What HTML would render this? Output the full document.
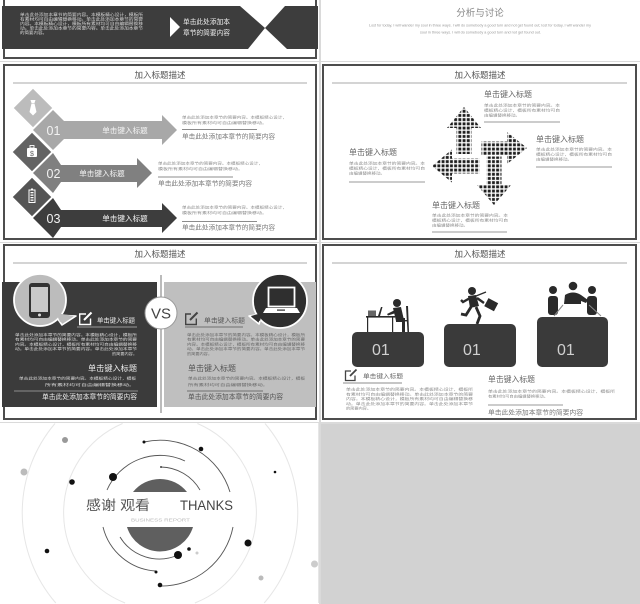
<!DOCTYPE html>
<html><head><meta charset="utf-8">
<style>
html,body{margin:0;padding:0;background:#dadada;width:640px;height:604px;overflow:hidden;}
svg{display:block;}
#root{position:absolute;left:0;top:0;}
text{font-family:"Liberation Sans","Noto Sans CJK SC",sans-serif;}
</style></head><body>
<svg id="root" width="640" height="604" viewBox="0 0 640 604" xmlns="http://www.w3.org/2000/svg" overflow="hidden">
<defs>
<pattern id="dots" x="0" y="0" width="4.2" height="4.2" patternUnits="userSpaceOnUse"><rect x="0.6" y="0.6" width="2.9" height="2.9" fill="#1e1e1e"/></pattern>
</defs>
<rect width="640" height="604" fill="#dadada"/>
<!-- tiles -->
<rect x="0" y="0" width="319" height="61" fill="#fff"/>
<rect x="321" y="0" width="319" height="61" fill="#fff"/>
<rect x="0" y="62" width="319" height="180" fill="#fff"/>
<rect x="321" y="62" width="319" height="180" fill="#fff"/>
<rect x="0" y="243" width="319" height="179" fill="#fff"/>
<rect x="321" y="243" width="319" height="179" fill="#fff"/>
<rect x="0" y="423" width="319" height="181" fill="#fff"/>
<rect x="321" y="424" width="319" height="180" fill="#d2d2d2"/>

<!-- ===== Row 1 left ===== -->
<path d="M4,0 V58 H316 V0" fill="none" stroke="#4d4d4d" stroke-width="2"/>
<polygon points="2,6 240,6 265,28 248,49 2,49" fill="#3d3d3d"/>
<polygon points="285,6 318,6 318,49 287,49 265,28" fill="#3d3d3d"/>
<polygon points="170,17 180,27 170,37" fill="#fff"/>
<text x="183" y="24" font-size="6.6" fill="#eee" textLength="47" lengthAdjust="spacingAndGlyphs">单击此处添加本</text>
<text x="183" y="35" font-size="6.6" fill="#eee" textLength="47" lengthAdjust="spacingAndGlyphs">章节的简要内容</text>
<g font-size="3.8" fill="#d8d8d8">
<text x="20" y="16" textLength="123" lengthAdjust="spacingAndGlyphs">单击此处添加本章节的简要内容。本模板精心设计，模板所</text>
<text x="20" y="20.5" textLength="123" lengthAdjust="spacingAndGlyphs">有素材均可自由编辑替换移动。单击此处添加本章节的简要</text>
<text x="20" y="25" textLength="123" lengthAdjust="spacingAndGlyphs">内容。本模板精心设计，模板所有素材均可自由编辑替换移</text>
<text x="20" y="29.5" textLength="123" lengthAdjust="spacingAndGlyphs">动。单击此处添加本章节的简要内容。单击此处添加本章节</text>
<text x="20" y="34" textLength="27" lengthAdjust="spacingAndGlyphs">的简要内容。</text>
</g>

<!-- ===== Row 1 right ===== -->
<text x="480" y="16" font-size="9.5" fill="#888" text-anchor="middle">分析与讨论</text>
<g font-size="3.5" fill="#999">
<text x="369" y="26.5" textLength="222" lengthAdjust="spacingAndGlyphs">Lost for today, I will wander my soul in three ways. I will do somebody a good turn and not get found out; lost for today, I will wander my</text>
<text x="420" y="33.5" textLength="121" lengthAdjust="spacingAndGlyphs">soul in three ways. I will do somebody a good turn and not get found out.</text>
</g>

<!-- ===== Row 2 left ===== -->
<rect x="4" y="65" width="312" height="174" fill="none" stroke="#4d4d4d" stroke-width="2"/>
<text x="160" y="78" font-size="8.5" fill="#555" text-anchor="middle">加入标题描述</text>
<line x1="13" y1="83" x2="307" y2="83" stroke="#aaa" stroke-width="1"/>
<polygon points="33,130 53,110 64,121 162,121 162,115 177,130 162,145 162,139 64,139 53,150" fill="#a8a8a8"/>
<polygon points="33,173 53,153 61,165 137,165 137,158 152,173 137,188 137,182 61,182 53,193" fill="#808080"/>
<polygon points="33,218 53,198 61,210 162,210 162,203 177,218 162,233 162,227 61,227 53,238" fill="#3d3d3d"/>
<polygon points="33,88 53,108 33,128 13,108" fill="#bcbcbc" stroke="#fff" stroke-width="1.2"/>
<polygon points="32,132 52,152 32,172 12,152" fill="#636363" stroke="#fff" stroke-width="1.2"/>
<polygon points="32,177 52,197 32,217 12,197" fill="#555" stroke="#fff" stroke-width="1.2"/>
<polygon points="30.5,100 35.5,100 34.5,103 31.5,103" fill="#fff"/>
<polygon points="31.5,103.5 34.5,103.5 36.5,112 33,115.5 29.5,112" fill="#fff"/>
<rect x="30" y="145.5" width="4" height="2.5" fill="none" stroke="#fff" stroke-width="0.9"/>
<rect x="27" y="148" width="10" height="9" rx="1" fill="#fff"/>
<text x="32" y="155.8" font-size="7" fill="#636363" text-anchor="middle">$</text>
<rect x="31" y="188.5" width="2" height="1.5" fill="#fff"/>
<rect x="29" y="190" width="6" height="12.5" fill="none" stroke="#fff" stroke-width="1"/>
<rect x="30.5" y="192" width="3" height="1.3" fill="#fff"/>
<rect x="30.5" y="194.5" width="3" height="1.3" fill="#fff"/>
<rect x="30.5" y="197" width="3" height="1.3" fill="#fff"/>
<rect x="30.5" y="199.5" width="3" height="1.3" fill="#fff"/>
<g font-size="12.5" fill="#f2f2f2">
<text x="46.5" y="135">01</text>
<text x="46.5" y="178">02</text>
<text x="46.5" y="223">03</text>
</g>
<g font-size="7.6" fill="#f4f4f4" text-anchor="middle">
<text x="125" y="133">单击键入标题</text>
<text x="102" y="176">单击键入标题</text>
<text x="125" y="221">单击键入标题</text>
</g>
<g font-size="3.6" fill="#8a8a8a">
<text x="182" y="118.5" textLength="105" lengthAdjust="spacingAndGlyphs">单击此处添加本章节的简要内容。本模板精心设计，</text>
<text x="182" y="124" textLength="85" lengthAdjust="spacingAndGlyphs">模板所有素材均可自由编辑替换移动。</text>
<text x="158" y="164.5" textLength="105" lengthAdjust="spacingAndGlyphs">单击此处添加本章节的简要内容。本模板精心设计，</text>
<text x="158" y="170" textLength="85" lengthAdjust="spacingAndGlyphs">模板所有素材均可自由编辑替换移动。</text>
<text x="182" y="208.5" textLength="105" lengthAdjust="spacingAndGlyphs">单击此处添加本章节的简要内容。本模板精心设计，</text>
<text x="182" y="214" textLength="85" lengthAdjust="spacingAndGlyphs">模板所有素材均可自由编辑替换移动。</text>
</g>
<g stroke="#666" stroke-width="0.8">
<line x1="182" y1="129.5" x2="257" y2="129.5"/>
<line x1="158" y1="177" x2="233" y2="177"/>
<line x1="182" y1="221.5" x2="257" y2="221.5"/>
</g>
<g font-size="6.3" fill="#777">
<text x="182" y="138.5" textLength="93" lengthAdjust="spacingAndGlyphs">单击此处添加本章节的简要内容</text>
<text x="158" y="185.5" textLength="94" lengthAdjust="spacingAndGlyphs">单击此处添加本章节的简要内容</text>
<text x="182" y="229.5" textLength="93" lengthAdjust="spacingAndGlyphs">单击此处添加本章节的简要内容</text>
</g>

<!-- ===== Row 2 right ===== -->
<rect x="323" y="65" width="313" height="174" fill="none" stroke="#4d4d4d" stroke-width="2"/>
<text x="480" y="78" font-size="8.5" fill="#555" text-anchor="middle">加入标题描述</text>
<line x1="332" y1="83" x2="627" y2="83" stroke="#aaa" stroke-width="1"/>
<g fill="url(#dots)">
<polygon points="464,107 481,128 471.5,128 471.5,154 456.5,154 456.5,128 447,128"/>
<polygon points="481.5,141.5 507,141.5 507,132 527,148 507,164 507,155.5 481.5,155.5"/>
<polygon points="432,166 452,149.5 452,158.5 479.5,158.5 479.5,173.5 452,173.5 452,182.5"/>
<polygon points="486.5,156.5 501.5,156.5 501.5,185 511,185 494,205 477,185 486.5,185"/>
</g>
<g font-size="7.8" fill="#666">
<text x="484" y="97" textLength="48" lengthAdjust="spacingAndGlyphs">单击键入标题</text>
<text x="536" y="142" textLength="48" lengthAdjust="spacingAndGlyphs">单击键入标题</text>
<text x="349" y="155" textLength="48" lengthAdjust="spacingAndGlyphs">单击键入标题</text>
<text x="432" y="208" textLength="48" lengthAdjust="spacingAndGlyphs">单击键入标题</text>
</g>
<g font-size="3.6" fill="#8a8a8a">
<text x="484" y="106.5" textLength="76" lengthAdjust="spacingAndGlyphs">单击此处添加本章节的简要内容。本</text>
<text x="484" y="111.5" textLength="76" lengthAdjust="spacingAndGlyphs">模板精心设计，模板所有素材均可自</text>
<text x="484" y="116.5" textLength="36" lengthAdjust="spacingAndGlyphs">由编辑替换移动。</text>
<text x="536" y="150.5" textLength="76" lengthAdjust="spacingAndGlyphs">单击此处添加本章节的简要内容。本</text>
<text x="536" y="155.5" textLength="76" lengthAdjust="spacingAndGlyphs">模板精心设计，模板所有素材均可自</text>
<text x="536" y="160.5" textLength="36" lengthAdjust="spacingAndGlyphs">由编辑替换移动。</text>
<text x="349" y="164.5" textLength="76" lengthAdjust="spacingAndGlyphs">单击此处添加本章节的简要内容。本</text>
<text x="349" y="169.5" textLength="76" lengthAdjust="spacingAndGlyphs">模板精心设计，模板所有素材均可自</text>
<text x="349" y="174.5" textLength="36" lengthAdjust="spacingAndGlyphs">由编辑替换移动。</text>
<text x="432" y="216.5" textLength="76" lengthAdjust="spacingAndGlyphs">单击此处添加本章节的简要内容。本</text>
<text x="432" y="221.5" textLength="76" lengthAdjust="spacingAndGlyphs">模板精心设计，模板所有素材均可自</text>
<text x="432" y="226.5" textLength="36" lengthAdjust="spacingAndGlyphs">由编辑替换移动。</text>
</g>
<g stroke="#777" stroke-width="0.8">
<line x1="484" y1="122" x2="560" y2="122"/>
<line x1="536" y1="167" x2="612" y2="167"/>
<line x1="349" y1="182" x2="425" y2="182"/>
<line x1="432" y1="232" x2="507" y2="232"/>
</g>

<!-- ===== Row 3 left (VS) ===== -->
<rect x="4" y="245" width="312" height="174" fill="none" stroke="#4d4d4d" stroke-width="2"/>
<text x="160" y="257" font-size="8.5" fill="#555" text-anchor="middle">加入标题描述</text>
<line x1="13" y1="263" x2="307" y2="263" stroke="#aaa" stroke-width="1"/>
<rect x="2" y="282" width="155" height="125" fill="#3b3b3b"/>
<rect x="164" y="282" width="152" height="125" fill="#bfbfbf"/>
<line x1="161" y1="275" x2="161" y2="413" stroke="#777" stroke-width="1"/>
<polygon points="55,315 76,316 62,325" fill="#bcbcbc" stroke="#fff" stroke-width="1.6" stroke-linejoin="round"/>
<circle cx="40" cy="300" r="26" fill="#bcbcbc" stroke="#fff" stroke-width="1.8"/>
<polygon points="56,313 74,316 60,322" fill="#bcbcbc"/>
<rect x="29" y="283" width="21" height="35" rx="3" fill="#333"/>
<rect x="31" y="287" width="17" height="25" fill="#c9c9c9"/>
<circle cx="39.5" cy="315" r="1.5" fill="#ddd"/>
<polygon points="262,314 249,316 259,324" fill="#2f2f2f" stroke="#fff" stroke-width="1.6" stroke-linejoin="round"/>
<circle cx="280" cy="301" r="27" fill="#2f2f2f" stroke="#fff" stroke-width="1.8"/>
<polygon points="262,313 251,316 260,321" fill="#2f2f2f"/>
<rect x="268.5" y="287.5" width="26" height="19" fill="none" stroke="#fff" stroke-width="1.8"/>
<polygon points="266,308 297,308 300,313 263,313" fill="#fff"/>
<rect x="277" y="309.5" width="8" height="1.2" fill="#2f2f2f"/>
<circle cx="161" cy="313" r="16" fill="#fff" stroke="#999" stroke-width="1"/>
<text x="161" y="318.5" font-size="15" fill="#444" text-anchor="middle">VS</text>
<g stroke="#fff" stroke-width="1.4" fill="none">
<path d="M86 314 H79.7 V324.5 H90.5 V318.5"/>
<path d="M84 320 L91.5 312.5" stroke-width="2"/>
</g>
<g stroke="#444" stroke-width="1.4" fill="none">
<path d="M191 314 H185.7 V324.5 H196.3 V318.5"/>
<path d="M190 320 L197.5 312.5" stroke-width="2"/>
</g>
<text x="97" y="322.5" font-size="6.5" fill="#eee" textLength="38" lengthAdjust="spacingAndGlyphs">单击键入标题</text>
<line x1="77" y1="327" x2="137" y2="327" stroke="#bbb" stroke-width="0.8"/>
<text x="204" y="322.5" font-size="6.5" fill="#555" textLength="41" lengthAdjust="spacingAndGlyphs">单击键入标题</text>
<line x1="185" y1="327" x2="243" y2="327" stroke="#555" stroke-width="0.8"/>
<g font-size="3.6" fill="#dcdcdc">
<text x="15" y="336" textLength="122" lengthAdjust="spacingAndGlyphs">单击此处添加本章节的简要内容。本模板精心设计，模板所</text>
<text x="15" y="340.7" textLength="122" lengthAdjust="spacingAndGlyphs">有素材均可自由编辑替换移动。单击此处添加本章节的简要</text>
<text x="15" y="345.4" textLength="122" lengthAdjust="spacingAndGlyphs">内容。本模板精心设计，模板所有素材均可自由编辑替换移</text>
<text x="15" y="350" textLength="122" lengthAdjust="spacingAndGlyphs">动。单击此处添加本章节的简要内容。单击此处添加本章节</text>
<text x="112" y="355" textLength="25" lengthAdjust="spacingAndGlyphs">的简要内容。</text>
<text x="19" y="379.5" textLength="117" lengthAdjust="spacingAndGlyphs">单击此处添加本章节的简要内容。本模板精心设计，模板</text>
<text x="45" y="386" textLength="90" lengthAdjust="spacingAndGlyphs">所有素材均可自由编辑替换移动。</text>
</g>
<text x="137" y="371" font-size="7.8" fill="#eee" text-anchor="end" textLength="49" lengthAdjust="spacingAndGlyphs">单击键入标题</text>
<line x1="14" y1="391" x2="138" y2="391" stroke="#aaa" stroke-width="0.8"/>
<text x="42" y="399" font-size="6.8" fill="#eee" textLength="95" lengthAdjust="spacingAndGlyphs">单击此处添加本章节的简要内容</text>
<g font-size="3.6" fill="#666">
<text x="187" y="336" textLength="118" lengthAdjust="spacingAndGlyphs">单击此处添加本章节的简要内容。本模板精心设计，模板所</text>
<text x="187" y="340.7" textLength="118" lengthAdjust="spacingAndGlyphs">有素材均可自由编辑替换移动。单击此处添加本章节的简要</text>
<text x="187" y="345.4" textLength="118" lengthAdjust="spacingAndGlyphs">内容。本模板精心设计，模板所有素材均可自由编辑替换移</text>
<text x="187" y="350" textLength="118" lengthAdjust="spacingAndGlyphs">动。单击此处添加本章节的简要内容。单击此处添加本章节</text>
<text x="187" y="355" textLength="25" lengthAdjust="spacingAndGlyphs">的简要内容。</text>
<text x="188" y="379.5" textLength="117" lengthAdjust="spacingAndGlyphs">单击此处添加本章节的简要内容。本模板精心设计，模板</text>
<text x="188" y="386" textLength="80" lengthAdjust="spacingAndGlyphs">所有素材均可自由编辑替换移动。</text>
</g>
<text x="188" y="371" font-size="7.8" fill="#555" textLength="48" lengthAdjust="spacingAndGlyphs">单击键入标题</text>
<line x1="187" y1="391" x2="263" y2="391" stroke="#555" stroke-width="0.8"/>
<text x="188" y="399" font-size="6.8" fill="#555" textLength="95" lengthAdjust="spacingAndGlyphs">单击此处添加本章节的简要内容</text>

<!-- ===== Row 3 right ===== -->
<rect x="323" y="245" width="313" height="174" fill="none" stroke="#4d4d4d" stroke-width="2"/>
<text x="480" y="257" font-size="8.5" fill="#555" text-anchor="middle">加入标题描述</text>
<line x1="332" y1="263" x2="627" y2="263" stroke="#aaa" stroke-width="1"/>
<rect x="352" y="332" width="72" height="35" rx="5" fill="#3a3a3a"/>
<rect x="444" y="324" width="72" height="43" rx="5" fill="#3a3a3a"/>
<rect x="537" y="317" width="71" height="50" rx="5" fill="#3a3a3a"/>
<g font-size="16" fill="#d0d0d0">
<text x="372" y="355">01</text>
<text x="463" y="355">01</text>
<text x="557" y="355">01</text>
</g>
<g fill="#2a2a2a">
<rect x="366" y="316" width="29" height="1.6"/>
<rect x="367" y="317" width="1.2" height="15"/>
<rect x="392" y="317" width="1.2" height="15"/>
<rect x="368" y="310.5" width="8" height="5.5" fill="#666"/>
<polygon points="378,316 381,307 382.5,307 380,316"/>
<circle cx="397" cy="303" r="4"/>
<polygon points="393,308 401,307 404,320 396,321"/>
<polygon points="395,310 387,314 388,315.5 396,313"/>
<polygon points="396,318 405,318 405,332 402,332 402,322 396,322"/>
<polygon points="406,306 408,306 409,332 407.5,332"/>
<rect x="399" y="320" width="9" height="1.4"/>
</g>
<g fill="#2a2a2a">
<circle cx="472" cy="291" r="4"/>
<polygon points="468,296 476,295 479,306 470,308"/>
<polyline points="470,298 463,302 461,300" fill="none" stroke="#2a2a2a" stroke-width="2.4"/>
<polyline points="477,298 484,303" fill="none" stroke="#2a2a2a" stroke-width="2.4"/>
<polyline points="471,307 466,315 461,314" fill="none" stroke="#2a2a2a" stroke-width="2.8"/>
<polyline points="476,307 480,316 477,324" fill="none" stroke="#2a2a2a" stroke-width="2.8"/>
<rect x="486" y="300" width="11" height="9" transform="rotate(28 491 304)"/>
<line x1="476" y1="296" x2="486" y2="292" stroke="#2a2a2a" stroke-width="1.4"/>
</g>
<g fill="#2a2a2a">
<circle cx="553" cy="290" r="4"/>
<rect x="548" y="296" width="10" height="19" rx="3"/>
<circle cx="573" cy="286" r="4.3"/>
<path d="M564,304 L565,295 Q573,290 581,295 L588,300 L586,303 L581,301 L581,304 Z"/>
<circle cx="592" cy="290" r="4"/>
<rect x="587" y="296" width="10" height="19" rx="3"/>
</g>
<g stroke="#888" stroke-width="1">
<line x1="554" y1="316" x2="563" y2="305"/>
<line x1="601" y1="316" x2="589" y2="305"/>
</g>
<g stroke="#444" stroke-width="1.3" fill="none">
<path d="M351 371 H345.5 V380.5 H355 V375.5"/>
<path d="M350 376 L356.5 369.5" stroke-width="1.8"/>
</g>
<text x="363" y="378.5" font-size="6.2" fill="#666" textLength="40" lengthAdjust="spacingAndGlyphs">单击键入标题</text>
<line x1="343" y1="383" x2="402" y2="383" stroke="#666" stroke-width="0.8"/>
<g font-size="3.6" fill="#8a8a8a">
<text x="346" y="390.5" textLength="127" lengthAdjust="spacingAndGlyphs">单击此处添加本章节的简要内容。本模板精心设计，模板所</text>
<text x="346" y="395.3" textLength="127" lengthAdjust="spacingAndGlyphs">有素材均可自由编辑替换移动。单击此处添加本章节的简要</text>
<text x="346" y="400" textLength="127" lengthAdjust="spacingAndGlyphs">内容。本模板精心设计，模板所有素材均可自由编辑替换移</text>
<text x="346" y="404.8" textLength="127" lengthAdjust="spacingAndGlyphs">动。单击此处添加本章节的简要内容。单击此处添加本章节</text>
<text x="346" y="409.5" textLength="25" lengthAdjust="spacingAndGlyphs">的简要内容。</text>
<text x="488" y="392.5" textLength="127" lengthAdjust="spacingAndGlyphs">单击此处添加本章节的简要内容。本模板精心设计，模板所</text>
<text x="488" y="397.5" textLength="60" lengthAdjust="spacingAndGlyphs">有素材均可自由编辑替换移动。</text>
</g>
<text x="488" y="382" font-size="7.8" fill="#666" textLength="47" lengthAdjust="spacingAndGlyphs">单击键入标题</text>
<line x1="488" y1="405" x2="563" y2="405" stroke="#777" stroke-width="0.8"/>
<text x="488" y="414.5" font-size="6.5" fill="#777" textLength="95" lengthAdjust="spacingAndGlyphs">单击此处添加本章节的简要内容</text>

<!-- ===== Row 4 left: thanks ===== -->
<g fill="none" stroke="#e6e6e6" stroke-width="1">
<path d="M122.6,423.5 A97,97 0 0 0 125.1,603"/>
<path d="M197.4,423.5 A97,97 0 0 1 194.9,603"/>
<path d="M55,423.5 A138,138 0 0 0 55.8,603"/>
<path d="M265,423.5 A138,138 0 0 1 264.2,603"/>
</g>
<path d="M133,492 A34.5,34.5 0 0 1 187,492 Z" fill="#5f5f5f"/>
<path d="M127,527 A34.5,34.5 0 0 0 193,527 Z" fill="#5f5f5f"/>
<g fill="none" stroke="#555" stroke-width="0.9">
<path d="M144,442 A73,73 0 0 1 230,492"/>
<path d="M107,490 A58,58 0 0 1 185,461"/>
<path d="M161,467 A46,46 0 0 1 200,490"/>
<path d="M103,527 A58,58 0 0 0 156,571"/>
<path d="M120,537 A46,46 0 0 0 178,555"/>
<path d="M160,586 A73,73 0 0 0 233,527"/>
</g>
<g fill="#111">
<circle cx="144" cy="442" r="1.5"/>
<circle cx="201" cy="449" r="2.3"/>
<circle cx="113" cy="477" r="4"/>
<circle cx="72" cy="482" r="2.8"/>
<circle cx="275" cy="472" r="1.3"/>
<circle cx="47" cy="551" r="2.3"/>
<circle cx="248" cy="543" r="3.5"/>
<circle cx="178" cy="555" r="4"/>
<circle cx="189" cy="549" r="1.8"/>
<circle cx="156" cy="572" r="1.5"/>
<circle cx="160" cy="585" r="2.3"/>
<circle cx="161" cy="467" r="0.9"/>
</g>
<circle cx="65" cy="440" r="3" fill="#999"/>
<circle cx="24" cy="472" r="3.5" fill="#bbb"/>
<circle cx="197" cy="553" r="1.5" fill="#ccc"/>
<circle cx="261" cy="578" r="2.5" fill="#bbb"/>
<circle cx="314.5" cy="564" r="3.5" fill="#ccc"/>
<text x="86" y="510" font-size="13.5" fill="#555" textLength="64" lengthAdjust="spacingAndGlyphs">感谢 观看</text>
<text x="180" y="510" font-size="13.5" fill="#444" textLength="53" lengthAdjust="spacingAndGlyphs">THANKS</text>
<text x="131" y="521.5" font-size="4.5" fill="#bbb" textLength="59" lengthAdjust="spacingAndGlyphs">BUSINESS REPORT</text>
<line x1="318.5" y1="423" x2="318.5" y2="603" stroke="#e6e6e6" stroke-width="1"/>
</svg>
</body></html>
